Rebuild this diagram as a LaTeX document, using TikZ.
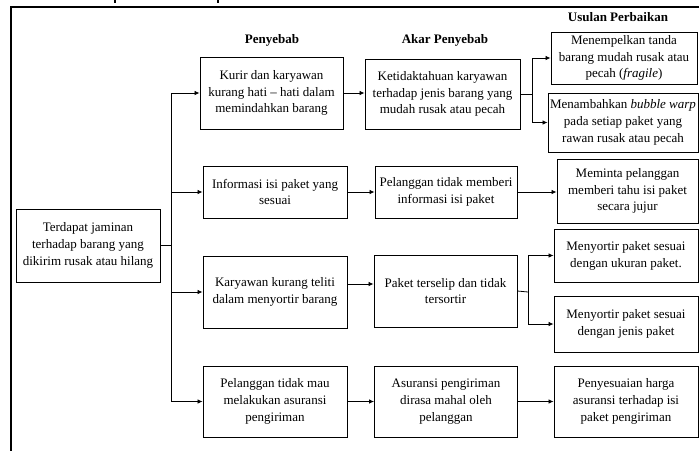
\documentclass[tikz,border=0pt]{standalone}
\usepackage{fontspec}
\setmainfont{Liberation Serif}
\usetikzlibrary{arrows.meta}

\begin{document}
\begin{tikzpicture}[x=1pt,y=-1pt,
  box/.style={draw, line width=0.9pt, align=center, inner sep=0pt,
    font=\fontsize{13}{16.8}\selectfont},
  head/.style={inner sep=0pt, font=\fontsize{13}{15}\selectfont\bfseries},
  conn/.style={line width=0.8pt},
  arr/.style={conn, -{Latex[length=5pt,width=4.5pt]}},
  frame/.style={line width=1.8pt}]

\useasboundingbox (0,0) rectangle (699,451);

% outer frame and cut-off marks above it
\draw[frame] (699,7) -- (11,7) -- (11,451);
\draw[frame] (115,0) -- (115,3);
\draw[frame] (218,0) -- (218,3);

% column headings
\node[head] (hc) at (272,40) {Penyebab};
\node[head] (hr) at (445,40) {Akar Penyebab};
\node[head] (hp) at (618,17) {Usulan Perbaikan};

% problem
\node[box, minimum width=144pt, minimum height=73pt] (root) at (88,245.5)
  {Terdapat jaminan\\terhadap barang yang\\dikirim rusak atau hilang};

% causes
\node[box, minimum width=143pt, minimum height=72pt] (c1) at (271.5,93)
  {Kurir dan karyawan\\kurang hati -- hati dalam\\memindahkan barang};
\node[box, minimum width=144pt, minimum height=52pt] (c2) at (275,192)
  {Informasi isi paket yang\\sesuai};
\node[box, minimum width=144pt, minimum height=72pt] (c3) at (275,292)
  {Karyawan kurang teliti\\dalam menyortir barang};
\node[box, minimum width=144pt, minimum height=71pt] (c4) at (275,401.5)
  {Pelanggan tidak mau\\melakukan asuransi\\pengiriman};

% root causes
\node[box, minimum width=155pt, minimum height=70pt] (r1) at (442.5,94)
  {Ketidaktahuan karyawan\\terhadap jenis barang yang\\mudah rusak atau pecah};
\node[box, minimum width=142pt, minimum height=52pt] (r2) at (446,192)
  {Pelanggan tidak memberi\\informasi isi paket};
\node[box, minimum width=143pt, minimum height=72pt] (r3) at (445.5,291)
  {Paket terselip dan tidak\\tersortir};
\node[box, minimum width=143pt, minimum height=71pt] (r4) at (446,401.5)
  {Asuransi pengiriman\\dirasa mahal oleh\\pelanggan};

% proposed improvements
\node[box, minimum width=146pt, minimum height=52pt] (p1) at (624,58)
  {Menempelkan tanda\\barang mudah rusak atau\\pecah (\textit{fragile})};
\node[box, minimum width=150pt, minimum height=59pt] (p2) at (623,122.5)
  {Menambahkan \textit{bubble warp}\\pada setiap paket yang\\rawan rusak atau pecah};
\node[box, minimum width=141pt, minimum height=64pt] (p3) at (627.5,191)
  {Meminta pelanggan\\memberi tahu isi paket\\secara jujur};
\node[box, minimum width=144pt, minimum height=53pt] (p4) at (626,255.5)
  {Menyortir paket sesuai\\dengan ukuran paket.};
\node[box, minimum width=144pt, minimum height=56pt] (p5) at (626,324)
  {Menyortir paket sesuai\\dengan jenis paket};
\node[box, minimum width=144pt, minimum height=71pt] (p6) at (626,401.5)
  {Penyesuaian harga\\asuransi terhadap isi\\paket pengiriman};

% junction points
\coordinate (t) at (171,245.5);
\coordinate (b1) at (532,94);
\coordinate (b2) at (528,292);

% problem -> causes
\draw[conn] (root.east) -- (t);
\draw[conn] (c1.west -| t) -- (c4.west -| t);
\draw[arr] (c1.west -| t) -- (c1.west);
\draw[arr] (c2.west -| t) -- (c2.west);
\draw[arr] (c3.west -| t) -- (c3.west);
\draw[arr] (c4.west -| t) -- (c4.west);

% causes -> root causes
\draw[arr] (c1.east) -- (c1.east -| r1.west);
\draw[arr] (c2.east) -- (r2.west);
\draw[arr] ([yshift=8pt]c3.east) -- ([yshift=8pt]c3.east -| r3.west);
\draw[arr] (c4.east) -- (r4.west);

% root causes -> improvements
\draw[conn] (r1.east) -- (b1);
\draw[conn] (p1.west -| b1) -- (p2.west -| b1);
\draw[arr] (p1.west -| b1) -- (p1.west);
\draw[arr] (p2.west -| b1) -- (p2.west);

\draw[arr] (r2.east) -- (r2.east -| p3.west);

\draw[conn] (r3.east) -- (b2);
\draw[conn] (p4.west -| b2) -- (p5.west -| b2);
\draw[arr] (p4.west -| b2) -- (p4.west);
\draw[arr] (p5.west -| b2) -- (p5.west);

\draw[arr] (r4.east) -- (p6.west);

\end{tikzpicture}
\end{document}
